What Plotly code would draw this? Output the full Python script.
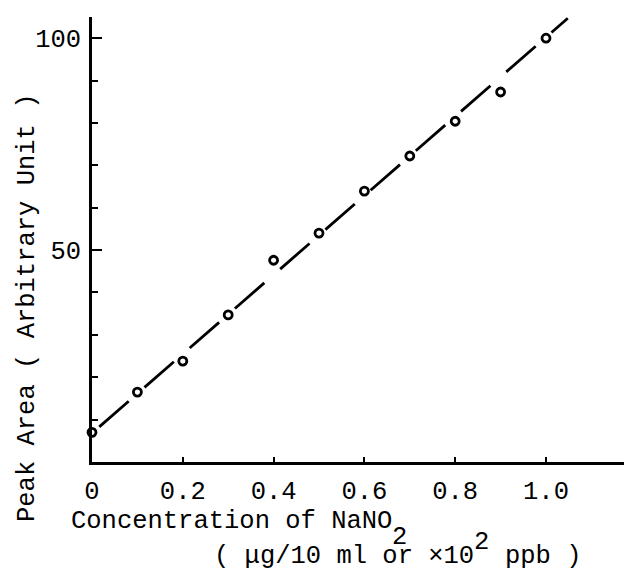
import plotly.graph_objects as go

# ---- data ----
conc = [0.0, 0.1, 0.2, 0.3, 0.4, 0.5, 0.6, 0.7, 0.8, 0.9, 1.0]
peak_area = [7.0, 16.5, 23.8, 34.7, 47.6, 54.0, 63.9, 72.2, 80.4, 87.3, 100.0]
# calibration line endpoints
line_x = [0.016, 1.048]
line_y = [8.3, 104.7]

x_tickvals = [0, 0.2, 0.4, 0.6, 0.8, 1.0]
x_ticktext = ["0", "0.2", "0.4", "0.6", "0.8", "1.0"]
y_tickvals = [50, 100]
y_ticktext = ["50", "100"]
y_minor_vals = [10, 20, 30, 40, 60, 70, 80, 90]

# the page body has an 8px default margin; size the figure to fill the rest
OFF = 8
W, H = 632 - OFF, 576 - OFF
ML, MR, MT, MB = 92 - OFF, 0, 17 - OFF, 114
PW, PH = W - ML - MR, H - MT - MB
FONT = "Liberation Mono, Courier New, monospace"
FS = 25.5
ADV = 0.6 * FS


def px(xp):
    # xp given in window pixels
    return (xp - OFF - ML) / PW


def py(yp):
    return (MT + PH - (yp - OFF)) / PH


fig = go.Figure()
fig.add_trace(go.Scatter(
    x=line_x, y=line_y, mode="lines",
    line=dict(color="black", width=2.8, dash="39px,21px"),
    hoverinfo="skip", showlegend=False,
))
fig.add_trace(go.Scatter(
    x=conc, y=peak_area, mode="markers", cliponaxis=False,
    marker=dict(symbol="circle-open", size=8, color="black",
                line=dict(width=2.8, color="black")),
    showlegend=False,
))

ann_font = dict(family=FONT, size=FS, color="black")
L1, L2 = 70, 213
annotations = [
    dict(text="Peak Area ( Arbitrary Unit )", textangle=-90,
         x=px(27), y=py(308), xanchor="center", yanchor="middle"),
    dict(text="Concentration of NaNO", x=px(L1), y=py(521),
         xanchor="left", yanchor="middle"),
    dict(text="2", x=px(L1 + 21 * ADV), y=py(537),
         xanchor="left", yanchor="middle"),
    dict(text="( μg/10 ml or ×10", x=px(L2), y=py(556),
         xanchor="left", yanchor="middle"),
    dict(text="2", x=px(L2 + 17 * ADV), y=py(542),
         xanchor="left", yanchor="middle"),
    dict(text="ppb )", x=px(L2 + 19 * ADV), y=py(556),
         xanchor="left", yanchor="middle"),
]
for a in annotations:
    a.update(xref="paper", yref="paper", showarrow=False, font=ann_font,
             borderpad=0)

fig.update_layout(
    width=W, height=H,
    margin=dict(l=ML, r=MR, t=MT, b=MB, pad=0),
    paper_bgcolor="white", plot_bgcolor="white",
    font=dict(family=FONT, size=FS, color="black"),
    annotations=annotations,
    showlegend=False,
)
fig.update_xaxes(
    range=[0, PW / 454.0], showgrid=False, zeroline=False,
    showline=True, linecolor="black", linewidth=2.6,
    tickmode="array", tickvals=x_tickvals, ticktext=x_ticktext,
    ticks="inside", ticklen=5, tickwidth=2.4, tickcolor="black",
    ticklabelstandoff=4,
    tickfont=dict(family=FONT, size=FS, color="black"),
)
fig.update_yaxes(
    range=[0, PH / 4.238], showgrid=False, zeroline=False,
    showline=True, linecolor="black", linewidth=2.6,
    tickmode="array", tickvals=y_tickvals, ticktext=y_ticktext,
    ticks="inside", ticklen=10, tickwidth=2.4, tickcolor="black",
    ticklabelstandoff=3,
    tickfont=dict(family=FONT, size=FS, color="black"),
    minor=dict(tickmode="array", tickvals=y_minor_vals, ticks="inside",
               ticklen=6, tickwidth=2.4, tickcolor="black", showgrid=False),
)

fig.write_html("out.html")
